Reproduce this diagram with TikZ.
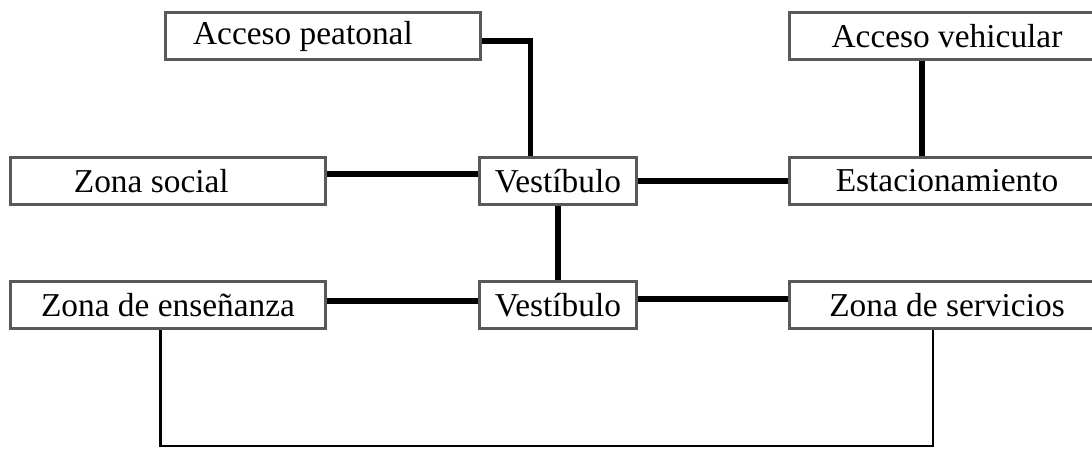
\documentclass[tikz,border=0pt]{standalone}
\usepackage{fontspec}
\setmainfont{Liberation Serif}
\begin{document}
\begin{tikzpicture}[x=0.02cm, y=-0.02cm,
		every node/.style={rectangle, draw=black!65, line width=1.5pt, fill=white, inner sep=0pt,
			minimum height=0.94cm, font=\fontsize{19}{22}\selectfont},
		wide/.style={minimum width=6.3cm},
		narrow/.style={minimum width=3.14cm},
		link/.style={line width=3.2pt, black}]
			\useasboundingbox (0,0) rectangle (1092,449);
			\clip (0,0) rectangle (1092,449);

			\node[wide] (peat) at (323,36) {Acceso peatonal\kern1.2em};
			\node[wide] (veh) at (947,36) {Acceso vehicular};
			\node[wide] (soc) at (168,181) {Zona social\kern1em};
			\node[narrow] (vest1) at (558,181) {Vestíbulo};
			\node[wide] (est) at (947,181) {Estacionamiento};
			\node[wide] (ens) at (168,305) {Zona de enseñanza};
			\node[narrow] (vest2) at (558,305) {Vestíbulo};
			\node[wide] (serv) at (947,305) {Zona de servicios};
			\coordinate (base) at (0,446);

			\draw[link] ([yshift=-0.1cm]peat.east) -| ([xshift=-0.55cm]vest1.north);
			\draw[link] ([xshift=-0.5cm]veh.south) -- ([xshift=-0.5cm]est.north);
			\draw[link] ([yshift=0.14cm]soc.east) -- ([yshift=0.14cm]vest1.west);
			\draw[link] (vest1.east) -- (est.west);
			\draw[link] (vest1.south) -- (vest2.north);
			\draw[link] ([yshift=0.08cm]ens.east) -- ([yshift=0.08cm]vest2.west);
			\draw[link] ([yshift=0.12cm]vest2.east) -- ([yshift=0.12cm]serv.west);
			\draw[line width=1.5pt] ([xshift=-0.15cm]ens.south) -- ([xshift=-0.15cm]ens.south |- base) -| ([xshift=-0.28cm]serv.south);
		\end{tikzpicture}
\end{document}
